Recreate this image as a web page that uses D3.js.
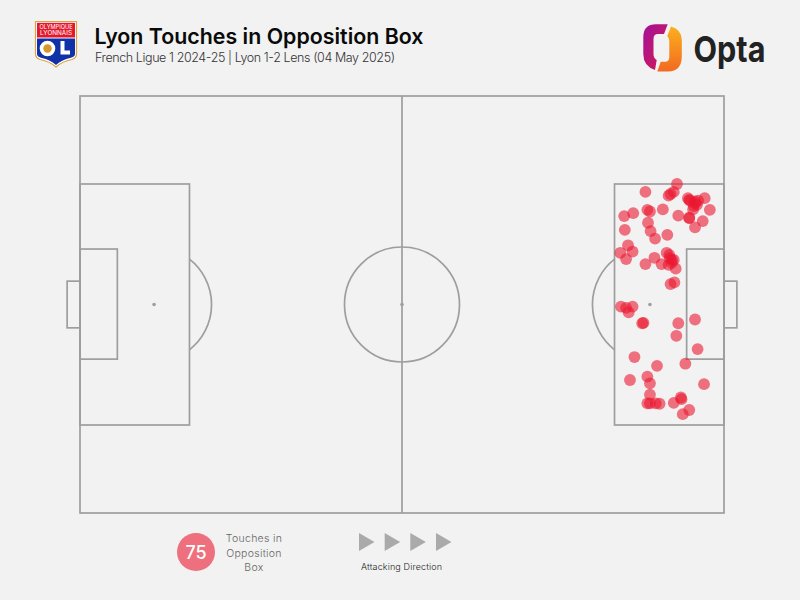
<!DOCTYPE html>
<html><head><meta charset="utf-8">
<script src="https://cdn.jsdelivr.net/npm/d3@7"></script>
<style>html,body{margin:0;padding:0;background:#f2f2f2}svg{display:block}text{font-family:"Inter","Roboto",sans-serif}</style>
</head><body><svg id="c" width="800" height="600"></svg>
<script>
const titleText = "Lyon Touches in Opposition Box";
const subtitleText = "French Ligue 1 2024-25 | Lyon 1-2 Lens (04 May 2025)";
const legendLabel = ["Touches in","Opposition","Box"];
const directionLabel = "Attacking Direction";
const touchesX = [92.7,87.8,92.2,91.7,91.4,94.4,94.7,97.0,95.5,96.0,95.3,95.8,95.2,97.8,90.5,88.1,88.5,85.9,84.5,92.9,94.6,94.6,96.7,88.2,95.5,84.6,88.6,91.2,89.3,85.1,85.8,83.9,84.8,91.1,91.5,92.2,89.2,87.8,90.3,91.4,91.9,92.5,91.7,92.3,91.6,91.9,95.5,94.6,
84.0,84.8,85.8,85.2,87.3,87.5,92.9,95.5,92.6,95.9,86.1,89.6,94.0,88.1,85.4,88.5,96.9,88.5,88.1,88.5,89.4,90.0,92.2,93.3,93.4,94.6,93.6];
const touchesY = [78.9,77.0,77.0,76.5,76.1,75.5,74.9,75.5,74.7,74.9,73.6,73.9,72.8,72.7,72.8,72.7,72.3,71.9,71.2,71.3,70.8,70.7,70.0,69.6,68.5,67.9,67.6,66.7,65.8,64.2,62.7,62.4,60.9,62.4,61.9,60.7,61.2,59.7,59.7,59.5,60.0,58.6,54.9,55.3,61.1,60.7,74.3,75.1,
49.5,49.2,49.5,48.1,45.5,45.6,45.5,46.4,42.5,39.3,37.4,35.3,35.8,32.7,31.9,31.1,30.9,28.4,26.3,26.3,26.3,26.2,26.4,27.7,27.3,24.7,23.7];
const directionMarks = [0,1,2,3];

const svg = d3.select("#c");
const x = d3.scaleLinear().domain([0,100]).range([80,724]);
const y = d3.scaleLinear().domain([0,100]).range([513,96]);
const lineCol = "#9e9e9e";
const pitch = svg.append("g").attr("fill","none").attr("stroke",lineCol).attr("stroke-width",1.7);
function rect(x0,x1,y0,y1){pitch.append("rect").attr("x",x(x0)).attr("y",y(y1)).attr("width",x(x1)-x(x0)).attr("height",y(y0)-y(y1));}
rect(0,100,0,100);
rect(0,17,21.1,78.9); rect(83,100,21.1,78.9);
rect(0,5.8,36.9,63.3); rect(94.2,100,36.9,63.3);
rect(-2,0,44.4,55.6); rect(100,102,44.4,55.6);
pitch.append("line").attr("x1",x(50)).attr("x2",x(50)).attr("y1",y(0)).attr("y2",y(100));
const R = 57.5;
pitch.append("circle").attr("cx",x(50)).attr("cy",y(50)).attr("r",R);
const spotL = x(11.5), spotR = x(88.5), cy = y(50);
const a = Math.acos((x(17)-spotL)/R);
const arc = d3.path();
arc.arc(spotL,cy,R,-a,a); pitch.append("path").attr("d",arc.toString());
const arc2 = d3.path();
arc2.arc(spotR,cy,R,Math.PI-a,Math.PI+a); pitch.append("path").attr("d",arc2.toString());
svg.selectAll(".spot").data([11.5,50,88.5]).join("circle").attr("cx",d=>x(d)).attr("cy",cy).attr("r",1.8).attr("fill",lineCol);

svg.selectAll(".touch").data(touchesX).join("circle").attr("class","touch")
  .attr("cx",d=>x(d)).attr("cy",(d,i)=>y(touchesY[i])).attr("r",5.9)
  .attr("fill","#eb1831").attr("fill-opacity",0.6);

svg.append("text").attr("x",94.5).attr("y",44).attr("font-size",21.5).attr("font-weight",600).attr("fill","#0a0a0a").attr("textLength",329).attr("lengthAdjust","spacingAndGlyphs").text(titleText);
svg.append("text").attr("x",95).attr("y",62).attr("font-size",12.5).attr("font-weight",300).attr("fill","#333").attr("textLength",300).attr("lengthAdjust","spacing").text(subtitleText);

// legend
svg.append("circle").attr("cx",196).attr("cy",552).attr("r",19).attr("fill","#eb1831").attr("fill-opacity",0.6);
svg.append("text").attr("x",196).attr("y",558.5).attr("text-anchor","middle").attr("font-size",18).attr("font-weight",500).attr("fill","#fff").text(touchesX.length);
svg.selectAll(".ll").data(legendLabel).join("text").attr("class","ll").attr("x",254).attr("y",(d,i)=>542+i*14.5)
  .attr("text-anchor","middle").attr("font-size",10.5).attr("font-weight",300).attr("letter-spacing",0.3).attr("fill","#666").text(d=>d);
const dirX = d3.scaleLinear().domain([0,3]).range([359,436]);
svg.selectAll(".tri").data(directionMarks).join("path").attr("class","tri")
  .attr("d",d=>{const p=d3.path(),a=dirX(d);p.moveTo(a,533);p.lineTo(a+15.5,542);p.lineTo(a,551);p.closePath();return p.toString();})
  .attr("fill","#aaaaaa");
svg.append("text").attr("x",401.5).attr("y",570).attr("text-anchor","middle").attr("font-size",9).attr("font-weight",300).attr("fill","#222").attr("textLength",81).attr("lengthAdjust","spacing").text(directionLabel);

// club crest
const crest = svg.append("g");
const shield = "M35.5,21.5H76.5V54Q76.5,58 72,59.5Q62,61.5 56,67Q50,61.5 40,59.5Q35.5,58 35.5,54Z";
crest.append("path").attr("d",shield).attr("fill","#fff").attr("stroke","#d9a441").attr("stroke-width",1.2);
crest.append("rect").attr("x",37).attr("y",22.8).attr("width",38).attr("height",14.7).attr("fill","#e3182d");
crest.append("path").attr("d","M37,38.5H75V54Q75,56.5 71,57.8Q61,60 56,65Q51,60 41,57.8Q37,56.5 37,54Z").attr("fill","#1131a8");
crest.selectAll(".ct").data(["OLYMPIQUE","LYONNAIS"]).join("text").attr("class","ct").attr("x",56).attr("y",(d,i)=>28.6+i*6.8)
  .attr("text-anchor","middle").attr("font-size",6).attr("font-weight",400).attr("fill","#fff").attr("textLength",(d,i)=>i?32:33).attr("lengthAdjust","spacingAndGlyphs").text(d=>d);
crest.append("circle").attr("cx",47.5).attr("cy",48.5).attr("r",7.8).attr("fill","#fff");
crest.append("circle").attr("cx",47.5).attr("cy",48.5).attr("r",4.2).attr("fill","#d9962c");
crest.append("path").attr("d","M60.5,41H64.5V50.5H70V54.5H60.5Z").attr("fill","#fff");

// brand mark
const defs = svg.append("defs");
const g1 = defs.append("linearGradient").attr("id","gL").attr("x1",0).attr("y1",0).attr("x2",1).attr("y2",1);
g1.append("stop").attr("offset",0).attr("stop-color","#a4109a"); g1.append("stop").attr("offset",1).attr("stop-color","#d51b50");
const g2 = defs.append("linearGradient").attr("id","gR").attr("x1",0).attr("y1",0).attr("x2",0).attr("y2",1);
g2.append("stop").attr("offset",0).attr("stop-color","#fbb01d"); g2.append("stop").attr("offset",1).attr("stop-color","#f26a21");
svg.append("path").attr("d","M667.7,24.3L664,34H658Q653.5,34 653.5,39V54Q653.5,58 656.7,60L655,70Q643.3,66 643.3,54V37Q643.3,24.3 656,24.3Z").attr("fill","url(#gL)");
svg.append("path").attr("d","M671,26.5Q681.8,29.5 681.8,40V56Q681.8,71.5 668,71.5H657.3L660.7,61.7H665Q669.3,61.7 669.3,57V41Q669.3,38 667.3,36Z").attr("fill","url(#gR)");
svg.append("text").attr("x",693.5).attr("y",62).attr("font-size",36).attr("font-weight",700).attr("fill","#222").attr("textLength",72).attr("lengthAdjust","spacingAndGlyphs").text("Opta");
</script></body></html>
